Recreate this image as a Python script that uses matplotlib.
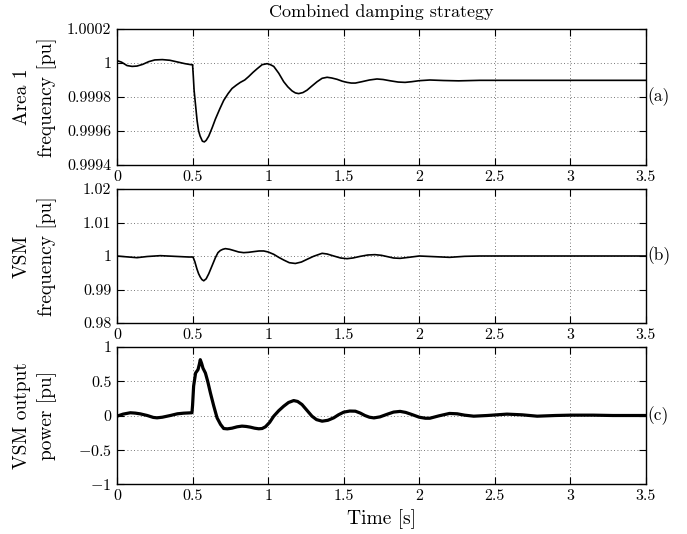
import matplotlib
matplotlib.use("Agg")
import matplotlib.pyplot as plt
from matplotlib.ticker import FixedLocator, FixedFormatter

plt.rcParams['font.family'] = 'serif'
plt.rcParams['font.serif'] = ['cmr10', 'DejaVu Serif']
plt.rcParams['mathtext.fontset'] = 'cm'
plt.rcParams['axes.formatter.use_mathtext'] = True
plt.rcParams['axes.unicode_minus'] = False

# ---- data ----
t_area = [0, 0.03, 0.066, 0.1, 0.132, 0.17, 0.21, 0.25, 0.3, 0.35, 0.4, 0.45, 0.49,
          0.5, 0.505, 0.51, 0.52, 0.53, 0.54, 0.55, 0.565, 0.578, 0.59, 0.607, 0.63,
          0.651, 0.68, 0.706, 0.735, 0.761, 0.79, 0.816, 0.845, 0.871, 0.9, 0.927,
          0.96, 0.993, 1.015, 1.037, 1.07, 1.103, 1.13, 1.158, 1.18, 1.202, 1.23,
          1.257, 1.29, 1.324, 1.357, 1.39, 1.42, 1.456, 1.49, 1.522, 1.55, 1.577,
          1.62, 1.67, 1.72, 1.76, 1.81, 1.86, 1.906, 1.95, 2.0, 2.07, 2.16, 2.26,
          2.4, 2.6, 3.0, 3.5]
f_area = [1.000014, 1.000005, 0.999985, 0.99998, 0.999982, 0.999992, 1.000008,
          1.000018, 1.00002, 1.000016, 1.000006, 0.999996, 0.99999,
          0.99999, 0.99992, 0.99984, 0.99975, 0.99966, 0.9996, 0.99957, 0.99954,
          0.999536, 0.999545, 0.99957, 0.99962, 0.99967, 0.99973, 0.99978, 0.99982,
          0.99985, 0.99987, 0.999886, 0.9999, 0.99992, 0.999945, 0.999966, 0.99999,
          0.999996, 0.99999, 0.99998, 0.99994, 0.99989, 0.99986, 0.999836, 0.999824,
          0.99982, 0.999826, 0.99984, 0.999865, 0.99989, 0.99991, 0.999916,
          0.999912, 0.999904, 0.999893, 0.999886, 0.999882, 0.999882, 0.99989,
          0.9999, 0.999906, 0.999903, 0.999895, 0.999888, 0.999886, 0.99989,
          0.999896, 0.9999, 0.999897, 0.999895, 0.999898, 0.999898, 0.999898,
          0.999898]

t_vsm = [0, 0.05, 0.132, 0.2, 0.287, 0.38, 0.474, 0.503, 0.515, 0.529, 0.54, 0.551,
         0.562, 0.574, 0.59, 0.607, 0.63, 0.651, 0.668, 0.684, 0.7, 0.717, 0.745,
         0.772, 0.805, 0.838, 0.87, 0.904, 0.94, 0.971, 1.0, 1.037, 1.07, 1.103,
         1.14, 1.18, 1.22, 1.257, 1.3, 1.357, 1.39, 1.434, 1.48, 1.522, 1.56, 1.61,
         1.66, 1.707, 1.75, 1.79, 1.83, 1.873, 1.93, 2.0, 2.1, 2.2, 2.3, 2.4, 2.7,
         3.0, 3.5]
f_vsm = [1.0, 0.9998, 0.9995, 0.99985, 1.0001, 0.9999, 0.9997, 0.9997, 0.9983,
         0.9961, 0.9947, 0.9937, 0.99295, 0.9926, 0.9932, 0.9947, 0.9972, 0.9995,
         1.001, 1.00165, 1.002, 1.0022, 1.002, 1.00165, 1.0012, 1.001, 1.0011,
         1.0013, 1.0015, 1.0015, 1.0012, 1.0005, 0.9996, 0.9988, 0.998, 0.99777,
         0.9982, 0.999, 0.9999, 1.0008, 1.0006, 1.0, 0.9994, 0.9992, 0.9994,
         0.9999, 1.0003, 1.0004, 1.0002, 0.9998, 0.9994, 0.9993, 0.9996, 1.0,
         0.9998, 0.9996, 0.9999, 1.0, 1.0, 1.0, 1.0]

t_pow = [0, 0.04, 0.088, 0.12, 0.154, 0.2, 0.24, 0.265, 0.3, 0.353, 0.4, 0.441,
         0.496, 0.5, 0.507, 0.52, 0.536, 0.545, 0.551, 0.56, 0.569, 0.585, 0.6,
         0.618, 0.64, 0.662, 0.685, 0.706, 0.73, 0.761, 0.795, 0.827, 0.855, 0.882,
         0.91, 0.938, 0.96, 0.982, 1.01, 1.037, 1.07, 1.103, 1.135, 1.169, 1.195,
         1.224, 1.255, 1.29, 1.32, 1.357, 1.395, 1.434, 1.465, 1.5, 1.54, 1.577,
         1.61, 1.64, 1.67, 1.7, 1.74, 1.79, 1.83, 1.873, 1.91, 1.95, 2.0, 2.04,
         2.07, 2.13, 2.2, 2.25, 2.3, 2.36, 2.45, 2.58, 2.68, 2.78, 2.9, 3.0, 3.15,
         3.28, 3.5]
p_vsm = [-0.01, 0.02, 0.04, 0.035, 0.024, 0.0, -0.028, -0.034, -0.025, 0.0, 0.025,
         0.034, 0.04, 0.15, 0.43, 0.62, 0.67, 0.75, 0.815, 0.76, 0.69, 0.62, 0.5,
         0.33, 0.14, -0.034, -0.13, -0.19, -0.195, -0.185, -0.165, -0.155, -0.16,
         -0.17, -0.185, -0.194, -0.19, -0.165, -0.1, -0.01, 0.07, 0.136, 0.19,
         0.218, 0.205, 0.16, 0.08, -0.01, -0.06, -0.083, -0.07, -0.034, 0.01,
         0.049, 0.065, 0.063, 0.035, 0.0, -0.025, -0.035, -0.02, 0.02, 0.05, 0.06,
         0.045, 0.015, -0.025, -0.04, -0.04, -0.005, 0.03, 0.025, 0.005, -0.01,
         0.0, 0.02, 0.01, -0.01, 0.0, 0.005, 0.005, 0.0, 0.0]

x_ticks = [0, 0.5, 1, 1.5, 2, 2.5, 3, 3.5]
x_labels = ['0', '0.5', '1', '1.5', '2', '2.5', '3', '3.5']
yt_a = [0.9994, 0.9996, 0.9998, 1.0, 1.0002]
yl_a = ['0.9994', '0.9996', '0.9998', '1', '1.0002']
yt_b = [0.98, 0.99, 1.0, 1.01, 1.02]
yl_b = ['0.98', '0.99', '1', '1.01', '1.02']
yt_c = [-1, -0.5, 0, 0.5, 1]
yl_c = ['$-1$', '$-0.5$', '0', '0.5', '1']

fig = plt.figure(figsize=(6.87, 5.34), dpi=100)
L, W = 117/687, 529/687
boxes = [(1-165/534, 136/534), (1-323/534, 134/534), (1-484/534, 137/534)]

panels = [
    (t_area, f_area, yt_a, yl_a, 'Area 1\nfrequency [pu]', '(a)', 1.2),
    (t_vsm, f_vsm, yt_b, yl_b, 'VSM\nfrequency [pu]', '(b)', 1.2),
    (t_pow, p_vsm, yt_c, yl_c, 'VSM output\npower [pu]', '(c)', 2.3),
]
fs = 11.5
lfs = 14
axes = []
for (b, h), (tx, vy, yt, yl, ylab, tag, lw) in zip(boxes, panels):
    ax = fig.add_axes([L, b, W, h])
    ax.plot(tx, vy, color='black', lw=lw, solid_joinstyle='round')
    ax.set_xlim(0, 3.5)
    ax.set_ylim(yt[0], yt[-1])
    ax.xaxis.set_major_locator(FixedLocator(x_ticks))
    ax.xaxis.set_major_formatter(FixedFormatter(x_labels))
    ax.yaxis.set_major_locator(FixedLocator(yt))
    ax.yaxis.set_major_formatter(FixedFormatter(yl))
    ax.tick_params(direction='in', length=5, width=0.8, top=True, right=True,
                   labelsize=fs, pad=4)
    ax.grid(True, linestyle=(0, (1, 3)), color='black', lw=0.6, alpha=0.7)
    for s in ax.spines.values():
        s.set_linewidth(1.0)
    ax.set_ylabel(ylab, fontsize=lfs, linespacing=1.45)
    ax.yaxis.set_label_coords(-0.113, 0.5)
    ax.text(1.003, 0.5, tag, transform=ax.transAxes, ha='left', va='center',
            fontsize=fs + 1)
    axes.append(ax)

axes[0].set_title('Combined damping strategy', fontsize=13, pad=9)
axes[2].set_xlabel('Time [s]', fontsize=lfs, labelpad=4)

fig.savefig('out.png', dpi=100)
